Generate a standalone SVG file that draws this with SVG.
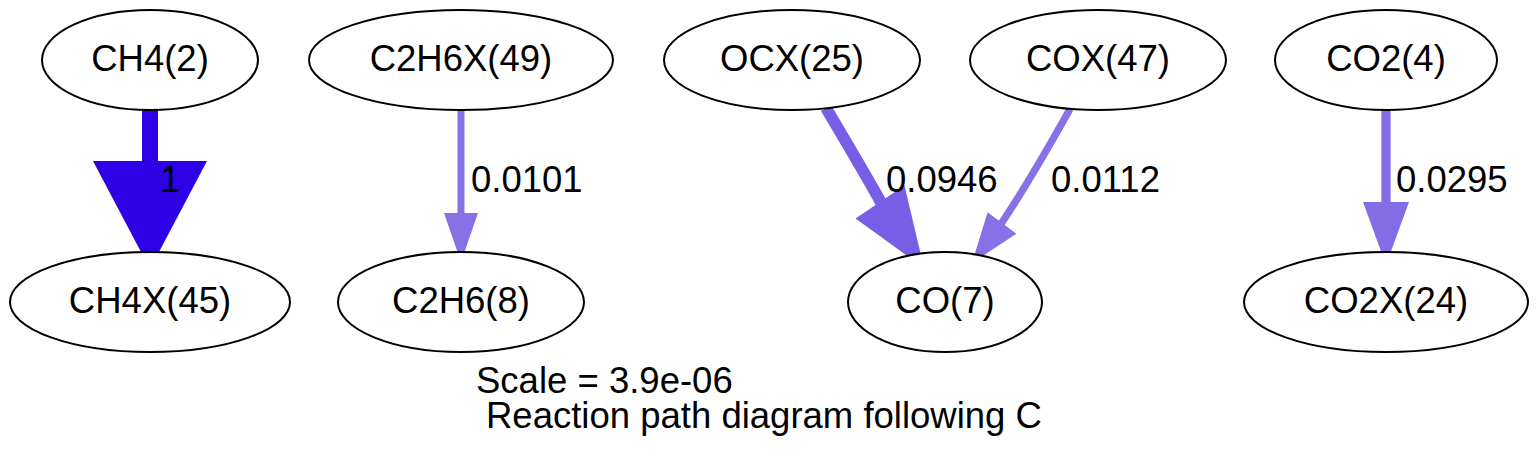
<svg xmlns="http://www.w3.org/2000/svg" width="1538" height="469" viewBox="0 0 1538 469">
<style>
  .node ellipse { fill: #ffffff; stroke: #000000; stroke-width: 2; }
  .node text, .lbl { font-family: "Liberation Sans", Arial, Helvetica, sans-serif; font-size: 36.5px; fill: #000000; }
  .node text { text-anchor: middle; }
  .shaft { fill: none; stroke-linecap: butt; }
</style>
<rect width="1538" height="469" fill="#ffffff"/>

<g id="connectors">
  <!-- CH4(2) -> CH4X(45) -->
  <g id="e-ch4">
    <line class="shaft" x1="150" y1="110" x2="150" y2="166" stroke="#2e00e6" stroke-width="16"/>
    <polygon points="93,161 207,161 150,269" fill="#2e00e6"/>
    <text class="lbl" x="160" y="192">1</text>
  </g>
  <!-- C2H6X(49) -> C2H6(8) -->
  <g id="e-c2h6">
    <line class="shaft" x1="461" y1="110" x2="461" y2="217" stroke="#8870e6" stroke-width="7"/>
    <polygon points="444,213 478,213 461,262" fill="#8870e6"/>
    <text class="lbl" x="471" y="192">0.0101</text>
  </g>
  <!-- OCX(25) -> CO(7) -->
  <g id="e-ocx">
    <path class="shaft" d="M826,108 C845,140 866,175 883,206" stroke="#785de6" stroke-width="11.7"/>
    <polygon points="855.5,218.4 904.5,185.6 924,268" fill="#785de6"/>
    <text class="lbl" x="886" y="192">0.0946</text>
  </g>
  <!-- COX(47) -> CO(7) -->
  <g id="e-cox">
    <path class="shaft" d="M1070,109 C1056,134 1024,190 999,227" stroke="#8870e6" stroke-width="7.3"/>
    <polygon points="987.6,212.2 1016.4,233.8 972,263" fill="#8870e6"/>
    <text class="lbl" x="1051" y="192">0.0112</text>
  </g>
  <!-- CO2(4) -> CO2X(24) -->
  <g id="e-co2">
    <line class="shaft" x1="1386" y1="110" x2="1386" y2="206" stroke="#846ce6" stroke-width="9.3"/>
    <polygon points="1363,202 1409,202 1386,265" fill="#846ce6"/>
    <text class="lbl" x="1396" y="192">0.0295</text>
  </g>
</g>

<g id="n-ch4" class="node">
  <ellipse cx="150" cy="60" rx="108" ry="50"/>
  <text x="150" y="71">CH4(2)</text>
</g>
<g id="n-c2h6x" class="node">
  <ellipse cx="461" cy="60" rx="152" ry="50"/>
  <text x="461" y="71">C2H6X(49)</text>
</g>
<g id="n-ocx" class="node">
  <ellipse cx="792" cy="60" rx="128" ry="50"/>
  <text x="792" y="71">OCX(25)</text>
</g>
<g id="n-cox" class="node">
  <ellipse cx="1098" cy="60" rx="128" ry="50"/>
  <text x="1098" y="71">COX(47)</text>
</g>
<g id="n-co2" class="node">
  <ellipse cx="1386" cy="60" rx="111" ry="50"/>
  <text x="1386" y="71">CO2(4)</text>
</g>
<g id="n-ch4x" class="node">
  <ellipse cx="150" cy="302" rx="140" ry="50"/>
  <text x="150" y="313">CH4X(45)</text>
</g>
<g id="n-c2h6" class="node">
  <ellipse cx="461" cy="302" rx="123" ry="50"/>
  <text x="461" y="313">C2H6(8)</text>
</g>
<g id="n-co" class="node">
  <ellipse cx="945" cy="302" rx="97" ry="50"/>
  <text x="945" y="313">CO(7)</text>
</g>
<g id="n-co2x" class="node">
  <ellipse cx="1386" cy="302" rx="142" ry="50"/>
  <text x="1386" y="313">CO2X(24)</text>
</g>

<g id="caption">
  <text class="lbl" x="476" y="393">Scale = 3.9e-06</text>
  <text class="lbl" x="486" y="428">Reaction path diagram following C</text>
</g>
</svg>
